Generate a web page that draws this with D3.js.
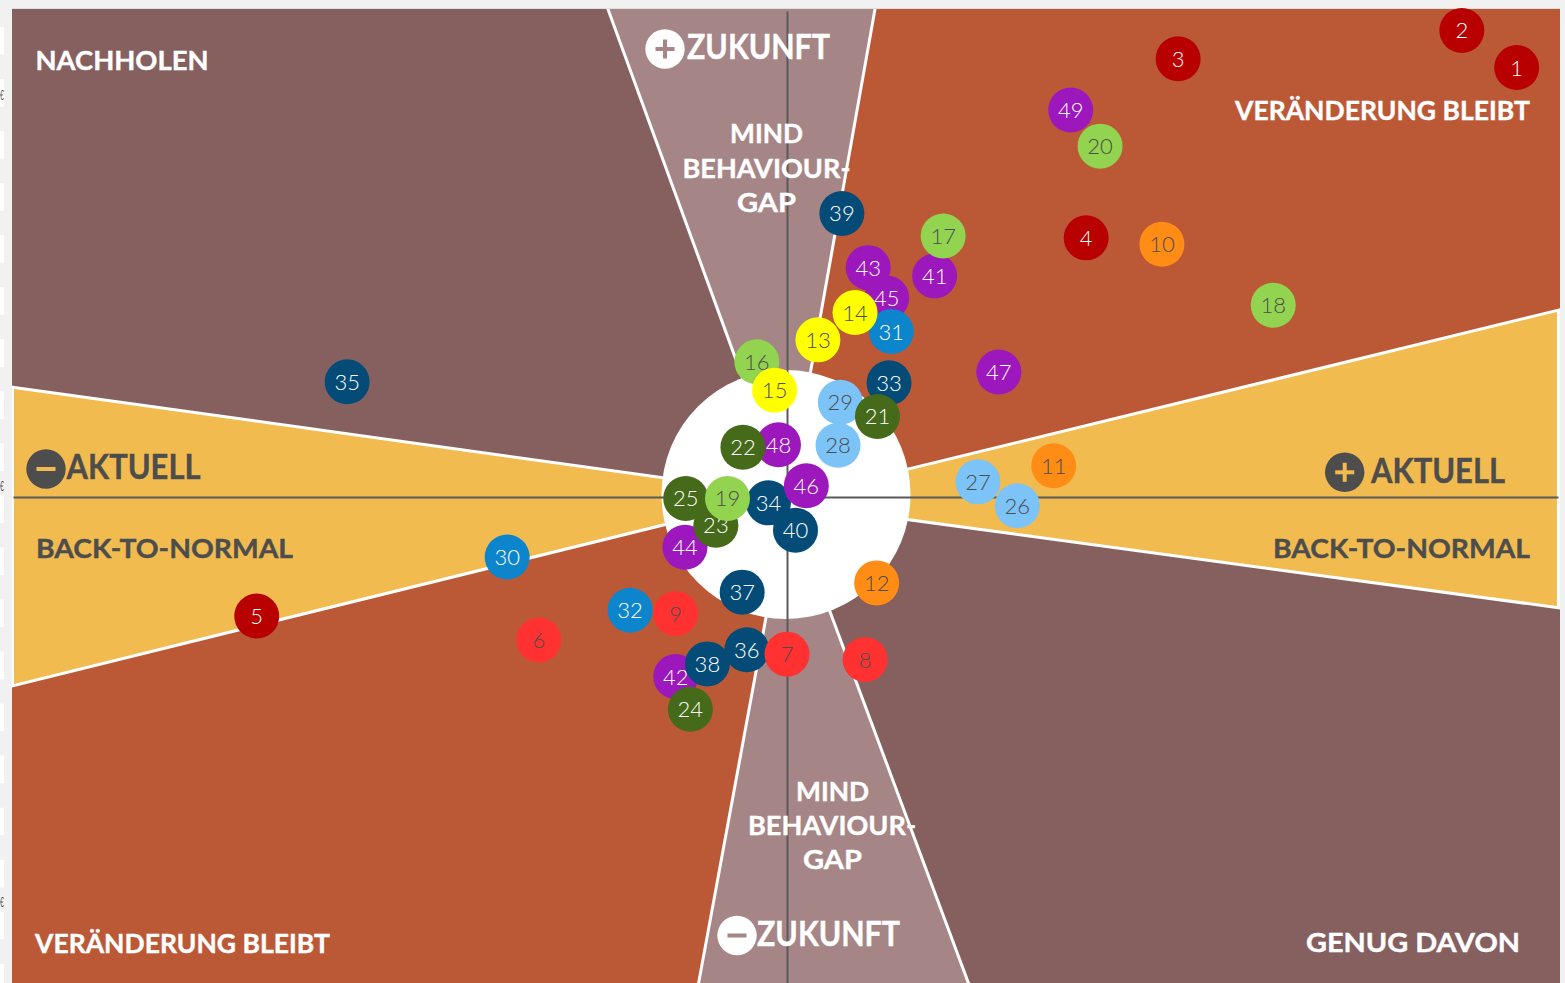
<!DOCTYPE html>
<html>
<head>
<meta charset="utf-8">
<title>Aktuell / Zukunft</title>
<script src="https://cdn.jsdelivr.net/npm/d3@7"></script>
<style>
  html, body { margin: 0; padding: 0; background: #f1f1f1; overflow: hidden; }
  svg { display: block; }
  text { font-family: Lato, "Noto Sans", sans-serif; }
</style>
</head>
<body>
<div id="chart"></div>
<script>
// bubble values, index 0 is bubble no. 1
const bubbleIds = d3.range(1, 50);
const bubbleX = [94.4, 87.3, 50.6, 38.7, -68.6, -32.1, 0.0, 10.1, -14.4, 48.5,
  34.5, 11.6, 4.0, 8.8, -1.6, -3.9, 20.2, 62.9, -7.7, 40.5,
  11.7, -5.7, -9.2, -12.5, -13.1, 29.8, 24.7, 6.6, 6.9, -36.2,
  13.5, -20.3, 13.2, -2.4, -56.9, -5.2, -5.8, -10.3, 7.1, 1.1,
  19.1, -14.4, 10.5, -13.2, 12.9, 2.5, 27.4, -1.1, 36.7];
const bubbleY = [88.0, 95.6, 89.8, 53.1, -24.4, -29.3, -32.2, -33.3, -23.9, 51.8,
  6.4, -17.6, 32.2, 37.8, 21.9, 27.7, 53.5, 39.3, -0.3, 71.9,
  16.5, 10.2, -5.8, -43.5, -0.3, -1.8, 3.1, 10.6, 19.4, -12.3,
  33.9, -23.2, 23.4, -1.2, 23.6, -31.3, -19.5, -34.2, 58.1, -6.8,
  45.3, -36.8, 47.0, -10.3, 40.8, 2.3, 25.6, 10.7, 79.3];
const bubbleGroup = [0,0,0,0,0, 1,1,1,1, 2,2,2, 3,3,3, 4,4,4,4,4, 5,5,5,5,5,
  6,6,6,6, 7,7,7, 8,8,8,8,8,8,8,8, 9,9,9,9,9,9,9,9,9];

// the order the bubbles overlap in
const drawOrder = [42,45,43,41,44,47,48,49,38,36,37,39,35,33,34,40,46,30,32,31,
  26,27,29,28,24,21,22,25,23,16,17,18,20,19,13,14,15,10,11,12,6,8,9,7,5,4,3,2,1];

const groupColors = ["#b80000", "#ff3131", "#ff8c14", "#ffff00", "#92d34f",
  "#446a1a", "#7cc3f7", "#0c85cc", "#044c77", "#9c17bc"];
const groupText = ["#fff", "#4d4d4d", "#4d4d4d", "#4d4d4d", "#4d4d4d",
  "#fff", "#4d4d4d", "#fff", "#fff", "#fff"];

// regions, corners in axis units
const xMin = -100.26, xMax = 100, yMin = -100, yMax = 100;
const brownColor = "#85605f", rustColor = "#bb5937", yellowColor = "#f2bb4f", mauveColor = "#a68586";
const quadrants = [
  {fill: brownColor, pts: [[xMin, yMax], [0, yMax], [0, 0], [xMin, 0]]},
  {fill: rustColor, pts: [[0, yMax], [xMax, yMax], [xMax, 0], [0, 0]]},
  {fill: rustColor, pts: [[xMin, 0], [0, 0], [0, yMin], [xMin, yMin]]},
  {fill: brownColor, pts: [[0, 0], [xMax, 0], [xMax, yMin], [0, yMin]]}
];
const wedges = [
  {fill: yellowColor, pts: [[-100.2, 22.5], [-11.3, 2.9], [-11.3, -3.9], [-100.2, -38.7]]},
  {fill: yellowColor, pts: [[99.8, 38.3], [9.4, 3.3], [9.4, -3.3], [99.8, -22.7]]},
  {fill: mauveColor, pts: [[-23.4, 101], [-4.7, 19.9], [2.4, 19.9], [11.5, 101]]},
  {fill: mauveColor, pts: [[-11.6, -101], [-2.3, -21.1], [5.0, -21.1], [23.8, -101]]}
];

const greyText = "#4d4d4d";
const titles = [
  {t: "NACHHOLEN", x: 35.5, y: 70, w: 173, size: 27, fill: "#fff"},
  {t: "VERÄNDERUNG BLEIBT", x: 1235, y: 120, w: 295, size: 27, fill: "#fff"},
  {t: "VERÄNDERUNG BLEIBT", x: 35, y: 953, w: 295, size: 27, fill: "#fff"},
  {t: "GENUG DAVON", x: 1306, y: 952, w: 214, size: 27, fill: "#fff"},
  {t: "BACK-TO-NORMAL", x: 36, y: 558, w: 257, size: 27, fill: greyText},
  {t: "BACK-TO-NORMAL", x: 1273, y: 558, w: 257, size: 27, fill: greyText},
  {t: "AKTUELL", x: 66.5, y: 479, w: 134, size: 35, fill: greyText},
  {t: "AKTUELL", x: 1371, y: 483, w: 134, size: 35, fill: greyText},
  {t: "ZUKUNFT", x: 687, y: 59, w: 143, size: 35, fill: "#fff"},
  {t: "ZUKUNFT", x: 757, y: 946, w: 143, size: 35, fill: "#fff"},
  {t: "MIND", x: 730, y: 143, w: 73, size: 27, fill: "#fff"},
  {t: "BEHAVIOUR-", x: 682.5, y: 178, w: 168, size: 27, fill: "#fff"},
  {t: "GAP", x: 737, y: 212, w: 59, size: 27, fill: "#fff"},
  {t: "MIND", x: 796, y: 801, w: 73, size: 27, fill: "#fff"},
  {t: "BEHAVIOUR-", x: 748, y: 835, w: 168, size: 27, fill: "#fff"},
  {t: "GAP", x: 803, y: 869, w: 59, size: 27, fill: "#fff"}
];
const badges = [
  {cx: 665, cy: 49, bg: "#fff", fg: mauveColor, plus: true},
  {cx: 737, cy: 935.5, bg: "#fff", fg: mauveColor, plus: false},
  {cx: 46, cy: 469, bg: greyText, fg: yellowColor, plus: false},
  {cx: 1344.7, cy: 472.3, bg: greyText, fg: yellowColor, plus: true}
];

const width = 1565, height = 983;

const xScale = d3.scaleLinear().domain([-100, 100]).range([14, 1560]);
const yScale = d3.scaleLinear().domain([-100, 100]).range([985, 9]);

const svg = d3.select("#chart").append("svg")
  .attr("width", width)
  .attr("height", height)
  .attr("viewBox", [0, 0, width, height]);

// page behind the picture: white stripes left, narrow glyphs on three of them
svg.append("g").selectAll("rect")
  .data(d3.range(27, 983, 52.05))
  .join("rect")
  .attr("x", 0).attr("y", d => d)
  .attr("width", 4).attr("height", 27.5)
  .attr("fill", "#fff");
svg.append("g").selectAll("text")
  .data([100, 491, 907])
  .join("text")
  .attr("x", 0).attr("y", d => d)
  .attr("font-size", 14)
  .attr("fill", "#555")
  .attr("textLength", 4)
  .attr("lengthAdjust", "spacingAndGlyphs")
  .text("€");
svg.append("line")
  .attr("x1", 12).attr("x2", 1560).attr("y1", 8.5).attr("y2", 8.5)
  .attr("stroke", "#dedede");

svg.append("clipPath").attr("id", "panel")
  .append("rect")
  .attr("x", xScale(xMin)).attr("y", yScale(yMax))
  .attr("width", xScale(xMax) - xScale(xMin))
  .attr("height", yScale(yMin) - yScale(yMax));

const panel = svg.append("g").attr("clip-path", "url(#panel)");

const polyPoints = d => d.pts.map(p => [xScale(p[0]), yScale(p[1])].join(",")).join(" ");

panel.append("g").selectAll("polygon")
  .data(quadrants)
  .join("polygon")
  .attr("points", polyPoints)
  .attr("fill", d => d.fill);

panel.append("g").selectAll("polygon")
  .data(wedges)
  .join("polygon")
  .attr("points", polyPoints)
  .attr("fill", d => d.fill)
  .attr("stroke", "#fff")
  .attr("stroke-width", 3);

// white disc in the middle
panel.append("circle")
  .attr("cx", 786).attr("cy", 494.5).attr("r", 124.5)
  .attr("fill", "#fff");

// axes are only the two lines through zero
const xAxis = panel.append("g")
  .attr("transform", `translate(0, ${yScale(0)})`)
  .call(d3.axisBottom(xScale.copy().range([13, 1558])).tickValues([]).tickSizeOuter(0));
const yAxis = panel.append("g")
  .attr("transform", `translate(${xScale(0)}, 0)`)
  .call(d3.axisLeft(yScale.copy().range([985, 11])).tickValues([]).tickSizeOuter(0));
panel.selectAll(".domain").attr("stroke", "#5a5a5a").attr("stroke-width", 2);

// headings
svg.append("g").selectAll("text")
  .data(titles)
  .join("text")
  .attr("x", d => d.x)
  .attr("y", d => d.y)
  .attr("font-size", d => d.size)
  .attr("font-weight", 700)
  .attr("fill", d => d.fill)
  .attr("stroke", d => d.fill)
  .attr("stroke-width", 0.4)
  .attr("textLength", d => d.w)
  .attr("lengthAdjust", "spacingAndGlyphs")
  .text(d => d.t);

// plus and minus badges
const badge = svg.append("g").selectAll("g")
  .data(badges)
  .join("g")
  .attr("transform", d => `translate(${d.cx}, ${d.cy})`);
badge.append("circle").attr("r", 19.7).attr("fill", d => d.bg);
badge.append("rect")
  .attr("x", -9.5).attr("y", -2)
  .attr("width", 19).attr("height", 4)
  .attr("fill", d => d.fg);
badge.filter(d => d.plus).append("rect")
  .attr("x", -2).attr("y", -9.5)
  .attr("width", 4).attr("height", 19)
  .attr("fill", d => d.fg);

// bubbles
const bubbles = svg.append("g").selectAll("g")
  .data(drawOrder.map(id => bubbleIds.indexOf(id)))
  .join("g")
  .attr("transform", i => `translate(${xScale(bubbleX[i])}, ${yScale(bubbleY[i])})`);

bubbles.append("circle")
  .attr("r", 22.5)
  .attr("fill", i => groupColors[bubbleGroup[i]]);

bubbles.append("text")
  .attr("text-anchor", "middle")
  .attr("y", 8)
  .attr("font-size", 22)
  .attr("font-weight", 300)
  .attr("fill", i => groupText[bubbleGroup[i]])
  .text(i => bubbleIds[i]);
</script>
</body>
</html>
